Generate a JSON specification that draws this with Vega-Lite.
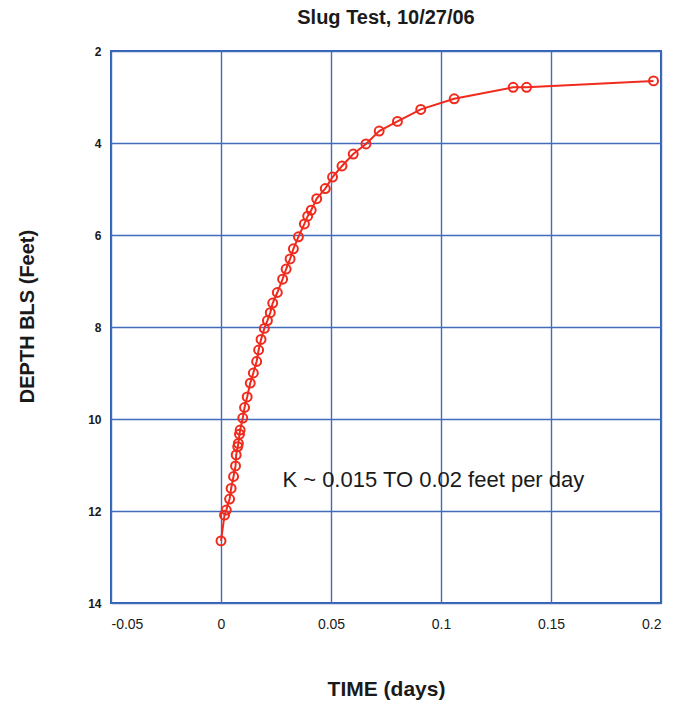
{
  "$schema": "https://vega.github.io/schema/vega-lite/v6.json",
  "width": 550,
  "height": 552,
  "autosize": "none",
  "padding": {"left": 111, "top": 51, "right": 12, "bottom": 104},
  "background": "white",
  "title": {
    "text": "Slug Test, 10/27/06",
    "font": "Liberation Sans",
    "fontSize": 20,
    "fontWeight": "bold",
    "color": "#1a1a1a",
    "anchor": "middle",
    "offset": 17
  },
  "config": {
    "view": {"stroke": "#2f5fb3", "strokeWidth": 2},
    "axis": {
      "labelFont": "Liberation Sans",
      "titleFont": "Liberation Sans",
      "labelColor": "#1a1a1a",
      "titleColor": "#1a1a1a",
      "gridColor": "#416bbb",
      "gridWidth": 1.4,
      "gridOpacity": 1,
      "domain": false,
      "ticks": false
    }
  },
  "datasets": {
    "slug": [
      {"t": 0.0, "d": 12.65},
      {"t": 0.0016, "d": 12.09},
      {"t": 0.0024, "d": 11.98},
      {"t": 0.0039, "d": 11.74},
      {"t": 0.0046, "d": 11.51},
      {"t": 0.0057, "d": 11.25},
      {"t": 0.0066, "d": 11.02},
      {"t": 0.0069, "d": 10.78},
      {"t": 0.0076, "d": 10.6},
      {"t": 0.0079, "d": 10.53},
      {"t": 0.0084, "d": 10.33},
      {"t": 0.0087, "d": 10.24},
      {"t": 0.0099, "d": 9.98},
      {"t": 0.0107, "d": 9.75},
      {"t": 0.0119, "d": 9.52},
      {"t": 0.0133, "d": 9.22},
      {"t": 0.0147, "d": 9.0},
      {"t": 0.0162, "d": 8.75},
      {"t": 0.0171, "d": 8.5},
      {"t": 0.0182, "d": 8.27},
      {"t": 0.0197, "d": 8.03},
      {"t": 0.0211, "d": 7.86},
      {"t": 0.0224, "d": 7.69},
      {"t": 0.0235, "d": 7.48},
      {"t": 0.0256, "d": 7.25},
      {"t": 0.028, "d": 6.96},
      {"t": 0.0296, "d": 6.74},
      {"t": 0.0314, "d": 6.52},
      {"t": 0.0329, "d": 6.3},
      {"t": 0.0352, "d": 6.04},
      {"t": 0.0379, "d": 5.76},
      {"t": 0.0394, "d": 5.59},
      {"t": 0.041, "d": 5.46},
      {"t": 0.0435, "d": 5.21},
      {"t": 0.0474, "d": 4.99},
      {"t": 0.0507, "d": 4.74},
      {"t": 0.055, "d": 4.5},
      {"t": 0.0601, "d": 4.24},
      {"t": 0.0659, "d": 4.02},
      {"t": 0.0719, "d": 3.74},
      {"t": 0.0802, "d": 3.53},
      {"t": 0.0908, "d": 3.27},
      {"t": 0.106, "d": 3.04},
      {"t": 0.1328, "d": 2.79},
      {"t": 0.1389, "d": 2.79},
      {"t": 0.1966, "d": 2.65}
    ],
    "note": [
      {"t": 0.0279, "d": 11.33, "label": "K ~ 0.015 TO 0.02 feet per day"}
    ]
  },
  "layer": [
    {
      "data": {"name": "slug"},
      "mark": {"type": "line", "color": "#f02a1c", "strokeWidth": 2},
      "encoding": {
        "x": {
          "field": "t",
          "type": "quantitative",
          "scale": {"domain": [-0.05, 0.2], "nice": false, "zero": false},
          "axis": {
            "values": [-0.05, 0, 0.05, 0.1, 0.15, 0.2],
            "labelExpr": "datum.value < 0 ? '-0.05' : format(datum.value, '~g')",
            "title": "TIME (days)",
            "titleFontSize": 21,
            "titleFontWeight": "bold",
            "titlePadding": 47,
            "labelFontSize": 14,
            "labelPadding": 14,
            "labelFontWeight": "normal"
          }
        },
        "y": {
          "field": "d",
          "type": "quantitative",
          "scale": {"domain": [2, 14], "reverse": true, "nice": false, "zero": false},
          "axis": {
            "values": [2, 4, 6, 8, 10, 12, 14],
            "title": "DEPTH BLS (Feet)",
            "titleFontSize": 20,
            "titleFontWeight": "bold",
            "titlePadding": 50,
            "titleY": 265,
            "labelFontSize": 12,
            "labelFontWeight": "bold",
            "labelPadding": 10
          }
        },
        "order": {"field": "t", "type": "quantitative"}
      }
    },
    {
      "data": {"name": "slug"},
      "mark": {"type": "point", "shape": "circle", "filled": false, "color": "#f02a1c", "strokeWidth": 2, "size": 80, "opacity": 1},
      "encoding": {
        "x": {"field": "t", "type": "quantitative"},
        "y": {"field": "d", "type": "quantitative"}
      }
    },
    {
      "data": {"name": "note"},
      "mark": {"type": "text", "align": "left", "baseline": "middle", "font": "Liberation Sans", "fontSize": 22, "color": "#1a1a1a"},
      "encoding": {
        "x": {"field": "t", "type": "quantitative"},
        "y": {"field": "d", "type": "quantitative"},
        "text": {"field": "label"}
      }
    }
  ]
}
